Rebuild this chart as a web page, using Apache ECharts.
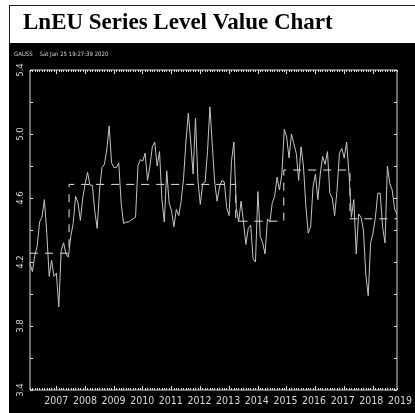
<!DOCTYPE html>
<html><head><meta charset="utf-8">
<script src="https://cdn.jsdelivr.net/npm/echarts@6/dist/echarts.min.js"></script>
<style>
html,body{margin:0;padding:0;background:#fff;}
#wrap{position:relative;width:415px;height:413px;overflow:hidden;}
#box{position:absolute;left:9px;top:5px;width:420px;height:39px;border-top:1px solid #222;border-left:1px solid #222;box-sizing:border-box;background:#fff;}
#panel{position:absolute;left:9px;top:43px;width:406px;height:370px;background:#000;}
#c{position:absolute;left:0;top:0;width:415px;height:413px;}
</style></head>
<body>
<div id="wrap"><div id="box"></div><div id="panel"></div><div id="c"></div></div>
<script>
// ---- data ----
const titleText = 'LnEU Series Level Value Chart';
const stampText = 'GAUSS    Sat Jan 25 19:27:39 2020';
const startYear = 2006;      // first observation: Feb 2006 (monthly)
const startMonth = 2;
const lnEU = [
 4.19,4.14,4.24,4.30,4.45,4.48,4.59,4.38,4.11,4.21,4.11,4.13,
 3.92,4.27,4.32,4.25,4.23,4.36,4.44,4.61,4.57,4.46,4.60,4.69,
 4.76,4.68,4.68,4.52,4.41,4.65,4.79,4.81,4.90,5.05,4.82,4.79,
 4.79,4.82,4.57,4.44,4.45,4.45,4.46,4.47,4.48,4.80,4.84,4.83,
 4.88,4.71,4.80,4.92,4.95,4.80,4.89,4.59,4.45,4.77,4.57,4.52,
 4.42,4.53,4.49,4.58,4.72,4.95,5.13,4.95,4.75,5.10,4.71,4.56,
 4.69,4.70,4.89,5.17,4.93,4.70,4.58,4.67,4.71,4.70,4.54,4.49,
 4.83,4.95,4.54,4.45,4.58,4.45,4.31,4.41,4.43,4.22,4.20,4.64,
 4.36,4.32,4.25,4.47,4.45,4.57,4.61,4.73,4.65,4.75,5.03,4.98,
 4.85,5.00,4.94,4.88,4.71,4.92,4.80,4.55,4.38,4.42,4.67,4.75,
 4.59,4.75,4.86,4.81,4.89,4.63,4.60,4.49,4.65,4.88,4.91,4.85,
 4.95,4.75,4.48,4.59,4.25,4.50,4.48,4.40,4.12,3.99,4.32,4.38,
 4.48,4.63,4.63,4.42,4.32,4.80,4.69,4.65,4.53,4.50
];
const levelBreaks = [2007.44, 2013.23, 2014.90, 2017.20];
const regimeLevels = [4.255, 4.685, 4.455, 4.775, 4.47];
const yearLabels = [2007,2008,2009,2010,2011,2012,2013,2014,2015,2016,2017,2018,2019];
const yTickLabels = [3.4,3.8,4.2,4.6,5.0,5.4];

// ---- build ----
const t0 = startYear + (startMonth - 1) / 12;
const dates = lnEU.map((_, i) => t0 + i / 12);
const tEnd = dates[dates.length - 1];
const seriesData = lnEU.map((v, i) => [dates[i], v]);
const levelData = [];
let prev = t0;
regimeLevels.forEach((lv, k) => {
  levelData.push([prev, lv]);
  const next = k < levelBreaks.length ? levelBreaks[k] : tEnd;
  levelData.push([next, lv]);
  prev = next;
});
const monthTicks = dates.slice();
const yearTicks = yearLabels.filter(y => y <= tEnd);

const fg = '#d8d8d8';
const smallFont = "'Liberation Sans Narrow','DejaVu Sans Condensed','Liberation Sans',sans-serif";
const G = {left: 30, top: 70, right: 18, bottom: 23};
const pxPerYear = (415 - G.left - G.right) / (tEnd - t0);
const lblRight = 415 - (G.left + (2019 - t0) * pxPerYear);

const hiddenX = (grid, pos, ticks, len) => ({
  type: 'value', gridIndex: grid, position: pos, min: t0, max: tEnd,
  axisLine: {show: false}, splitLine: {show: false},
  axisLabel: {show: false},
  axisTick: {show: true, inside: true, length: len, customValues: ticks, lineStyle: {color: fg, width: 1}}
});

const chart = echarts.init(document.getElementById('c'), null, {renderer: 'canvas', width: 415, height: 413});
chart.setOption({
  backgroundColor: 'transparent',
  animation: false,
  title: [
    {text: titleText, left: 23, top: 12, padding: 0,
     textStyle: {fontFamily: "'Liberation Serif','Times New Roman',serif", fontWeight: 'bold', fontSize: 23, color: '#000'}},
    {text: stampText, left: 14, top: 51, padding: 0,
     textStyle: {fontFamily: smallFont, fontWeight: 'normal', fontSize: 6, color: fg}}
  ],
  grid: [
    Object.assign({show: true, borderColor: fg, borderWidth: 1, backgroundColor: 'transparent'}, G),
    {left: G.left, top: G.top, right: lblRight, bottom: G.bottom, show: false}
  ],
  xAxis: [
    hiddenX(0, 'bottom', monthTicks, 2),
    hiddenX(0, 'bottom', yearTicks, 4),
    hiddenX(0, 'top', monthTicks, 2),
    hiddenX(0, 'top', yearTicks, 4),
    {type: 'value', gridIndex: 1, position: 'bottom', min: t0, max: 2019,
     axisLine: {show: false}, axisTick: {show: false}, splitLine: {show: false},
     axisLabel: {show: true, customValues: yearLabels, margin: 6, color: fg,
       fontFamily: smallFont, fontSize: 10.5, formatter: v => String(Math.round(v)),
       showMinLabel: true, showMaxLabel: true}}
  ],
  yAxis: [
    {type: 'value', gridIndex: 0, position: 'left', min: 3.4, max: 5.4, interval: 0.2,
     axisLine: {show: false}, splitLine: {show: false},
     axisTick: {show: true, inside: true, length: 3, lineStyle: {color: fg}},
     axisLabel: {show: true, customValues: yTickLabels, rotate: 90, margin: 4, color: fg,
       fontFamily: smallFont, fontSize: 9.5, formatter: v => v.toFixed(1)}},
    {type: 'value', gridIndex: 0, position: 'right', min: 3.4, max: 5.4, interval: 0.2,
     axisLine: {show: false}, splitLine: {show: false},
     axisTick: {show: true, inside: true, length: 3, lineStyle: {color: fg}},
     axisLabel: {show: false}},
    {type: 'value', gridIndex: 1, min: 3.4, max: 5.4, show: false}
  ],
  series: [
    {type: 'line', xAxisIndex: 0, yAxisIndex: 0, data: seriesData, showSymbol: false,
     lineStyle: {color: '#c4c4c4', width: 1}, z: 3},
    {type: 'line', xAxisIndex: 0, yAxisIndex: 0, data: levelData, showSymbol: false,
     lineStyle: {color: '#e6e6e6', width: 1, type: [8, 7]}, z: 2}
  ]
});
</script>
</body></html>
